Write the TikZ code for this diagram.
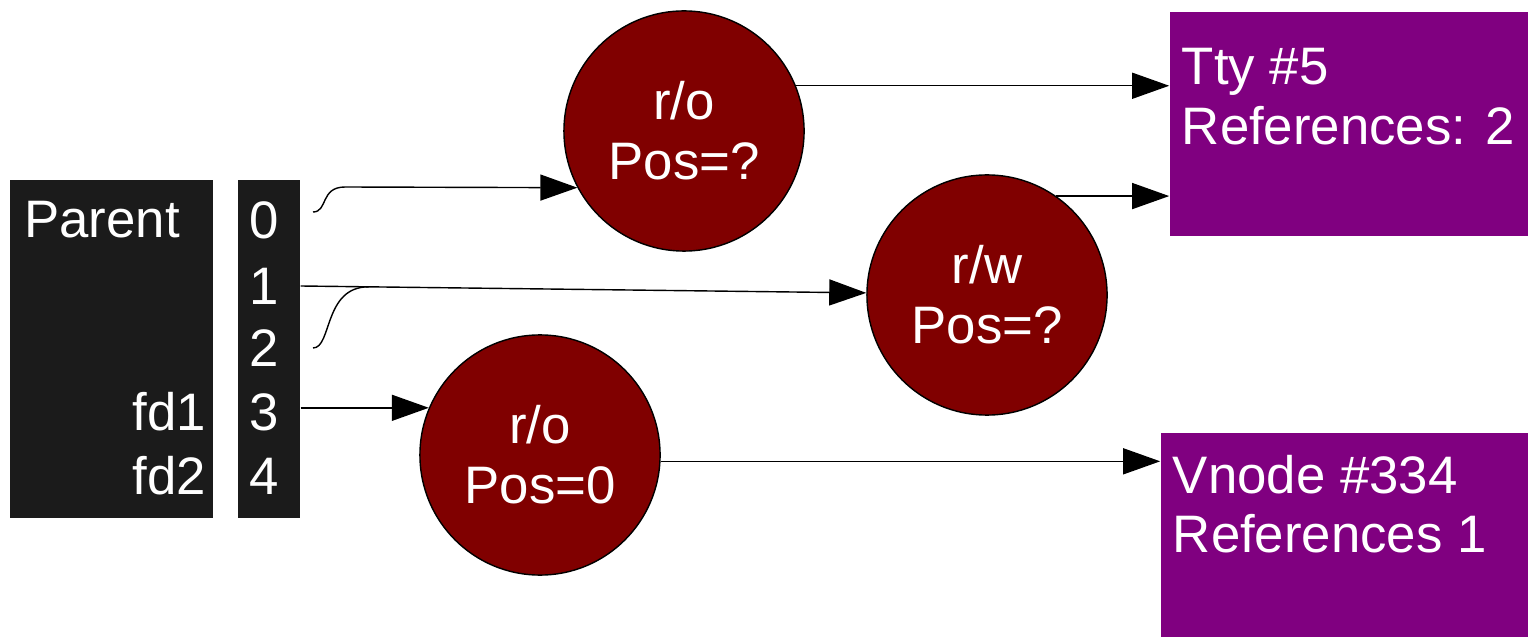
\documentclass[tikz,border=0pt]{standalone}
\usepackage{fontspec}
\setmainfont{Liberation Sans}
\usetikzlibrary{arrows.meta,calc,positioning}
\definecolor{fdgrey}{HTML}{1B1B1B}
\definecolor{filered}{HTML}{800000}
\definecolor{vnpurple}{HTML}{800080}
\tikzstyle{every node}+=[font=\fontsize{15}{17}\selectfont,text=white,inner sep=0pt]
\tikzstyle{table}=[rectangle,fill=fdgrey,minimum height=3.38cm]
\tikzstyle{file}=[circle,draw=black,line width=0.4pt,fill=filered,minimum size=2.4cm,align=center]
\tikzstyle{obj}=[rectangle,fill=vnpurple]
\tikzstyle{ptr}=[-{Triangle[length=3.7mm,width=2.6mm]},line width=0.4pt]

\begin{document}
\begin{tikzpicture}[x=0.01cm,y=-0.01cm]
\useasboundingbox (0,0) rectangle (1528,637);
% process and its descriptor table
\node[table,minimum width=2.03cm] (parent) at (111.5,349) {};
\node[table,minimum width=0.62cm] (fdtab) at (269,349) {};
\node (parentlbl) at (102,220) {Parent};
\foreach \i/\y in {0/220,1/286,2/348,3/412,4/476}
	\node (n\i) at (264,\y) {\i};
\node[anchor=east,xshift=-0.07cm] (fd1) at (parent.east |- n3) {fd1};
\node[anchor=east,xshift=-0.07cm] (fd2) at (parent.east |- n4) {fd2};

% open files
\node[file] (ro1) at (684,131) {r/o\\Pos=?};
\node[file] (rw) at (987,295) {r/w\\Pos=?};
\node[file] (ro2) at (540,455) {r/o\\Pos=0};

% vnodes
\node[obj,minimum width=3.58cm,minimum height=2.24cm] (tty) at (1349,124) {};
\node[obj,minimum width=3.67cm,minimum height=2.04cm] (vn) at (1344.5,535) {};
\node[anchor=north west,align=left] (ttylbl) at ($(tty.north west)+(12,36)$) {Tty \#5\\References: 2};
\node[anchor=north west,align=left] (vnlbl) at ($(vn.north west)+(12,22)$) {Vnode \#334\\References 1};

% descriptors -> files
\coordinate (s0) at (313,212);
\coordinate (s2) at (313,348);
\coordinate (m1) at ($(fdtab.east |- n1)!0.12!(rw.179)$);
\draw[ptr] (s0) .. controls (328,212) and (320,187) .. (345,187) -- (ro1.208);
\draw[ptr] (fdtab.east |- n1) -- (rw.179);
\draw (s2) .. controls (332,348) and ($(m1)+(-45,0)$) .. (m1);
\draw[ptr] (fdtab.east |- ro2.157) -- (ro2.157);

% files -> vnodes
\draw[ptr] (ro1.22) -- (tty.west |- ro1.22);
\draw[ptr] (rw.55) -- (tty.west |- rw.55);
\draw[ptr] (ro2.-3) -- (vn.west |- ro2.-3);
\end{tikzpicture}
\end{document}
